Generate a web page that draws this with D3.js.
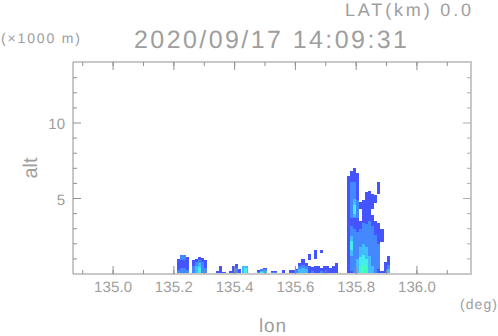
<!DOCTYPE html>
<html>
<head>
<meta charset="utf-8">
<script src="https://d3js.org/d3.v7.min.js"></script>
<style>
  body { margin: 0; background: #fff; }
  text { font-family: "Liberation Sans", sans-serif; fill: #9e9e9e; text-rendering: geometricPrecision; }
</style>
</head>
<body>
<div id="chart"></div>
<script>
// tick labels
var lonTicks = [135.0, 135.2, 135.4, 135.6, 135.8, 136.0];
var altTicks = [5, 10];
var lonMinor = d3.range(134.9, 136.15, 0.1);
var altMinor = d3.range(1, 14, 1);

// echo cells, each row is [lon start, alt bottom, alt top]
var level1 = [
  [135.21,0,1.0],[135.22,0,1.25],[135.23,0,1.25],[135.24,0,1.1],
  [135.26,0,0.9],[135.27,0,1.0],[135.28,0,1.15],[135.29,0,1.05],[135.30,0,0.9],
  [135.34,0,0.2],[135.35,0,0.55],[135.36,0,0.15],
  [135.38,0,0.2],[135.39,0,0.55],[135.40,0,0.65],[135.41,0,0.3],
  [135.475,0,0.25],[135.485,0,0.35],[135.495,0,0.4],[135.52,0,0.2],[135.53,0,0.2],[135.555,0,0.25],
  [135.58,0,0.25],[135.59,0,0.25],[135.60,0,0.3],[135.61,0,0.7],[135.62,0,1.0],[135.63,0,0.7],
  [135.64,0,0.5],[135.65,0,0.45],[135.66,0,0.55],[135.67,0,0.5],[135.68,0,0.4],[135.69,0,0.55],
  [135.70,0,0.5],[135.71,0,0.4],[135.72,0,0.55],[135.73,0,0.7],
  [135.64,0.9,1.3],[135.66,1.0,1.6],[135.68,1.4,1.6],
  [135.77,0,6.5],[135.78,0,6.8],[135.79,0,7.0],[135.80,0,6.7],
  [135.81,0,3.5],[135.81,4.3,4.8],[135.82,0,4.9],[135.83,0,5.4],[135.84,0,5.5],
  [135.85,0,3.9],[135.85,4.3,5.3],[135.86,0,3.5],[135.86,4.7,5.2],
  [135.87,0,3.4],[135.87,5.3,6.1],[135.88,0,0.2],[135.88,2.1,3.0],
  [135.89,0,0.8],[135.90,0,1.2]
];
var level2 = [
  [135.21,0,0.25],[135.22,0,0.4],[135.23,0,0.4],[135.24,0,0.25],[135.22,0.95,1.25],[135.23,0.95,1.25],
  [135.26,0,0.5],[135.27,0,0.8],[135.28,0,0.9],[135.29,0,0.8],[135.30,0,0.4],
  [135.40,0,0.4],[135.425,0,0.5],[135.435,0,0.5],[135.475,0,0.1],[135.485,0,0.3],[135.495,0,0.3],[135.52,0,0.12],[135.53,0,0.12],
  [135.60,0,0.25],[135.61,0,0.5],[135.62,0,0.6],[135.63,0,0.5],[135.65,0,0.2],[135.68,0,0.2],
  [135.78,3.7,6.1],[135.79,3.7,6.1],[135.80,3.7,4.9],
  [135.78,0.2,3.2],[135.79,0,3.0],[135.80,0,2.8],[135.81,0,3.0],[135.82,0,3.4],[135.83,0,3.3],[135.84,0,3.5],
  [135.85,0,3.2],[135.86,0,2.6],[135.87,0.3,2.0],[135.90,0,0.6]
];
var level3 = [
  [135.27,0,0.5],[135.28,0,0.7],[135.425,0,0.5],[135.435,0,0.5],[135.485,0,0.2],[135.495,0,0.2],[135.61,0,0.3],[135.62,0,0.4],[135.63,0,0.3],
  [135.79,3.8,5.0],
  [135.78,1.2,2.5],[135.80,0,1.0],[135.81,0,1.8],[135.82,0,2.0],[135.83,0,1.8],[135.84,0,1.2],[135.85,0,0.5],
  [135.90,0,0.3]
];
var level4 = [
  [135.28,0,0.45],[135.43,0,0.4],[135.485,0,0.12],[135.79,4.0,4.6],[135.78,1.6,2.2],
  [135.81,0,1.1],[135.82,0,1.25],[135.83,0,1.0]
];
var level5 = [[135.49,0,0.06],[135.815,0,0.6],[135.825,0,0.5]];

var levels = [level1, level2, level3, level4, level5];
var levelColors = ["#4455ff", "#4488ff", "#44bbff", "#44eeee", "#44ffbb"];

var svgWidth = 498, svgHeight = 336;
var margin = { top: 62, right: 27, bottom: 62, left: 73 };
var width = svgWidth - margin.left - margin.right;
var height = svgHeight - margin.top - margin.bottom;

var svg = d3.select("#chart").append("svg")
  .attr("width", svgWidth)
  .attr("height", svgHeight)
  .style("display", "block");

var g = svg.append("g")
  .attr("transform", `translate(${margin.left}, ${margin.top})`);

var x = d3.scaleLinear().domain([134.868, 136.178]).range([0, width]);
var y = d3.scaleLinear().domain([0, 14.04]).range([height, 0]);

// echo cells, low levels first
levels.forEach(function (cells, i) {
  g.append("g").selectAll("rect")
    .data(cells)
    .enter()
    .append("rect")
    .attr("x", d => x(d[0]))
    .attr("y", d => y(d[2]))
    .attr("width", d => x(d[0] + 0.01) - x(d[0]))
    .attr("height", d => y(d[1]) - y(d[2]))
    .attr("fill", levelColors[i])
    .attr("shape-rendering", "crispEdges");
});

// frame lines
var axisColor = "#909090";
var frameColor = "#c8c8c8";
g.append("line").attr("x1", 0).attr("x2", width + 1).attr("y1", 0).attr("y2", 0)
  .attr("stroke", frameColor).attr("stroke-width", 2);
g.append("line").attr("x1", 0).attr("x2", width + 1).attr("y1", height).attr("y2", height)
  .attr("stroke", frameColor).attr("stroke-width", 2);
g.append("line").attr("x1", width).attr("x2", width).attr("y1", 0).attr("y2", height)
  .attr("stroke", frameColor).attr("stroke-width", 2);
g.append("line").attr("x1", 0).attr("x2", 0).attr("y1", 0).attr("y2", height)
  .attr("stroke", axisColor);

// x ticks, top and bottom
function xTick(v, len) {
  g.append("line").attr("x1", x(v)).attr("x2", x(v)).attr("y1", height).attr("y2", height - len).attr("stroke", axisColor);
  g.append("line").attr("x1", x(v)).attr("x2", x(v)).attr("y1", 0).attr("y2", len).attr("stroke", axisColor);
}
lonMinor.forEach(v => xTick(v, 4));
lonTicks.forEach(v => xTick(v, 8));

// y ticks, left and right
altMinor.forEach(function (v) {
  var len = altTicks.includes(v) ? 8 : 4;
  g.append("line").attr("x1", 0).attr("x2", len)
    .attr("y1", y(v)).attr("y2", y(v)).attr("stroke", axisColor);
  g.append("line").attr("x1", width - len).attr("x2", width)
    .attr("y1", y(v)).attr("y2", y(v)).attr("stroke", "#b0b0b0");
});

// labels
g.selectAll(".lonLabel")
  .data(lonTicks)
  .enter()
  .append("text")
  .attr("x", d => x(d) - 19)
  .attr("y", height + 18)
  .attr("font-size", 15)
  .attr("textLength", 38)
  .text(d => d.toFixed(1));

g.selectAll(".altLabel")
  .data(altTicks)
  .enter()
  .append("text")
  .attr("x", -8)
  .attr("y", d => y(d) + 6)
  .attr("text-anchor", "end")
  .attr("font-size", 15)
  .text(d => d);

function label(txt, px, py, size, len) {
  return svg.append("text").attr("x", px).attr("y", py)
    .attr("font-size", size)
    .attr("textLength", len)
    .text(txt);
}
label("2020/09/17 14:09:31", 134, 48, 25, 273);
label("LAT(km) 0.0", 345, 16, 18, 126);
label("(\u00d71000 m)", 1, 43, 14, 79);
label("(deg)", 460, 309, 14, 37);
label("lon", 259, 332, 19, 27);
svg.append("text")
  .attr("transform", "translate(37, 168) rotate(-90)")
  .attr("text-anchor", "middle")
  .attr("font-size", 20)
  .text("alt");
</script>
</body>
</html>
